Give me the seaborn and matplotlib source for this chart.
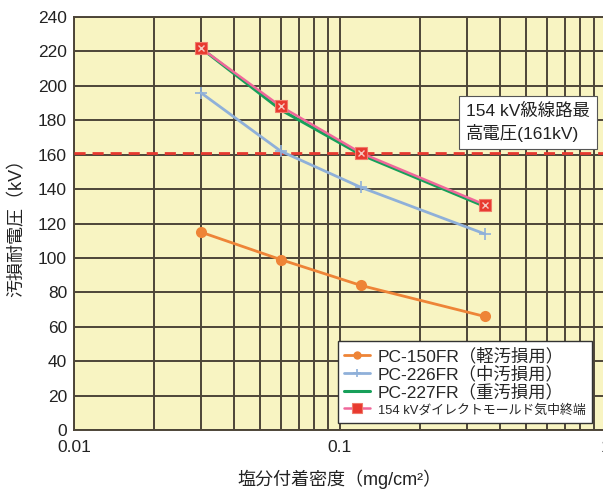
import matplotlib
matplotlib.use("Agg")
import matplotlib.pyplot as plt
import matplotlib.ticker as mticker
import seaborn as sns
import pandas as pd

# 塩分付着密度 (mg/cm2)
density = [0.03, 0.06, 0.12, 0.35]
pc150 = [115, 99, 84, 66]
pc226 = [196, 162, 141, 114]
pc227 = [222, 186, 160, 130]
direct_mold = [222, 188, 161, 131]
max_voltage = 161

labels = ["PC-150FR（軽汚損用）", "PC-226FR（中汚損用）",
          "PC-227FR（重汚損用）", "154 kVダイレクトモールド気中終端"]

FONTS = ["Liberation Sans", "Noto Sans CJK JP", "DejaVu Sans"]
BG = "#f8f4c2"
GRID = "#4d4538"
TXT = "#222222"

sns.set_theme(style="white")
plt.rcParams["font.family"] = FONTS

fig = plt.figure(figsize=(6.03, 4.93), dpi=100)
ax = fig.add_axes([0.1227, 0.1278, 0.882, 0.8377])
ax.set_facecolor(BG)

df = pd.DataFrame({"x": density, "a": pc150, "b": pc226, "c": pc227, "d": direct_mold})

sns.lineplot(data=df, x="x", y="a", ax=ax, color="#ee8437", lw=2, marker="o",
             markersize=8, markeredgewidth=0, label=labels[0], zorder=5)
sns.lineplot(data=df, x="x", y="b", ax=ax, color="#8fb0d9", lw=2, marker="+",
             markersize=8, markeredgewidth=1.2, markeredgecolor="#8fb0d9",
             label=labels[1], zorder=5)
sns.lineplot(data=df, x="x", y="c", ax=ax, color="#17a05a", lw=2.2,
             label=labels[2], zorder=5)
sns.lineplot(data=df, x="x", y="d", ax=ax, color="#f0679a", lw=1.8, marker="s",
             markersize=9, markerfacecolor="#e8392f", markeredgecolor="#f07a6a",
             markeredgewidth=0.8, label=labels[3], zorder=6)
ax.plot(density, direct_mold, ls="none", marker="x", ms=5, mec="#f6c8c0",
        mew=1, zorder=7)

ax.axhline(max_voltage, color="#e8392f", lw=2, ls=(0, (4, 2.5)), zorder=4)

ax.set_xscale("log")
ax.set_xlim(0.01, 1)
ax.set_ylim(0, 240)
ax.yaxis.set_major_locator(mticker.MultipleLocator(20))
ax.xaxis.set_major_locator(mticker.FixedLocator([0.01, 0.1, 1]))
ax.xaxis.set_major_formatter(mticker.FixedFormatter(["0.01", "0.1", "1"]))
ax.xaxis.set_minor_locator(mticker.LogLocator(base=10, subs=range(2, 10)))
ax.xaxis.set_minor_formatter(mticker.NullFormatter())

ax.grid(True, which="both", color=GRID, lw=1.4, zorder=1)
ax.set_axisbelow(True)
ax.tick_params(axis="both", which="both", length=0, labelsize=12.5, colors=TXT)
ax.tick_params(axis="x", pad=7)
ax.tick_params(axis="y", pad=5)
for s in ax.spines.values():
    s.set_color(GRID)
    s.set_linewidth(1.4)

ax.set_xlabel("塩分付着密度（mg/cm²）", fontsize=13, labelpad=11, color=TXT)
ax.set_ylabel("汚損耐電圧（kV）", fontsize=13, labelpad=9, color=TXT)

ax.text(0.298, 190, "154 kV級線路最\n高電圧(161kV)", fontsize=12.5, color=TXT,
        va="top", ha="left", linespacing=1.3, zorder=8,
        bbox=dict(boxstyle="square,pad=0.4", fc="white", ec="#555555", lw=0.8))

leg = ax.legend(loc="lower right", bbox_to_anchor=(0.99, -0.004), fontsize=12.5,
                frameon=True, fancybox=False, framealpha=1, edgecolor="#333333",
                borderpad=0.35, labelspacing=0.08, handlelength=1.5,
                handletextpad=0.45, markerscale=0.75)
leg.get_texts()[3].set_fontsize(9.3)
leg.get_frame().set_linewidth(1)
leg.set_zorder(10)

fig.savefig("out.png", dpi=100)
